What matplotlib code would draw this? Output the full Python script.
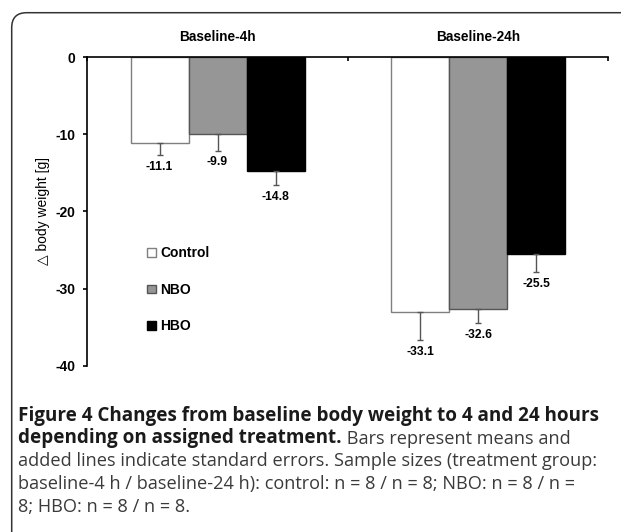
import numpy as np
import matplotlib
matplotlib.use("Agg")
import matplotlib.pyplot as plt
from matplotlib.patches import FancyBboxPatch

# data
groups = ['Baseline-4h', 'Baseline-24h']
treatments = ['Control', 'NBO', 'HBO']
control_mean = [-11.1, -33.1]
nbo_mean = [-9.9, -32.6]
hbo_mean = [-14.8, -25.5]
control_se = [1.6, 3.6]
nbo_se = [2.2, 1.9]
hbo_se = [1.8, 2.4]
yticks = [0, -10, -20, -30, -40]

fills = ['white', '#969696', 'black']
edges = ['#7f7f7f', '#555555', 'black']

plt.rcParams['font.family'] = ['Liberation Sans', 'DejaVu Sans']

fig = plt.figure(figsize=(6.21, 5.32), dpi=100)

# rounded frame round the whole figure (right and bottom sides run off the image)
frame = FancyBboxPatch((0.117, -0.4), 7.0, 5.32 - 0.127 + 0.4,
                       boxstyle="round,pad=0,rounding_size=0.15",
                       transform=fig.dpi_scale_trans, fill=False,
                       edgecolor='#333333', linewidth=1.1)
fig.patches.append(frame)

ax = fig.add_axes([0.1406, 0.3126, 0.8389, 0.5797])

x = np.arange(len(groups)) + 0.5
w = 0.2227
means = [control_mean, nbo_mean, hbo_mean]
ses = [control_se, nbo_se, hbo_se]
handles = []
for i, (m, s) in enumerate(zip(means, ses)):
    xs = x + (i - 1) * w
    b = ax.bar(xs, m, w, color=fills[i], edgecolor=edges[i], linewidth=1.0,
               label=treatments[i], zorder=2)
    handles.append(b)
    ax.errorbar(xs, m, yerr=[s, np.zeros(len(s))], fmt='none', ecolor='#555555',
                elinewidth=1.0, capsize=2.3, capthick=1.0, zorder=3)
    for xi, mi, si in zip(xs, m, s):
        ax.annotate(f'{mi:.1f}', (xi, mi - si), xytext=(0, -8.5),
                    textcoords='offset points', ha='center', va='center',
                    fontsize=8.7, fontweight='bold')

ax.set_xlim(0, 2)
ax.set_ylim(-40, 0)
ax.set_yticks(yticks)
ax.set_yticklabels([str(t) for t in yticks], fontsize=10, fontweight='bold')
ax.tick_params(axis='y', direction='out', length=3, width=1.2, pad=5.5)

# x axis sits at zero along the top
ax.spines['bottom'].set_visible(False)
ax.spines['right'].set_visible(False)
ax.spines['top'].set_linewidth(1.2)
ax.spines['left'].set_linewidth(1.2)
ax.xaxis.tick_top()
ax.set_xticks([0, 1, 2])
ax.set_xticklabels([])
ax.set_xticks(x, minor=True)
ax.set_xticklabels(groups, minor=True, fontsize=9.8, fontweight='bold')
ax.tick_params(axis='x', which='major', direction='in', length=3, width=1.2)
ax.tick_params(axis='x', which='minor', length=0, pad=9.5)

ax.set_ylabel('\u25b3 body weight [g]', fontsize=10)
ax.yaxis.set_label_coords(-0.072, 0.5)

leg = ax.legend(handles=handles, loc='center left', bbox_to_anchor=(0.115, 0.246),
                frameon=False, prop={'weight': 'bold', 'size': 10},
                handlelength=0.6, handleheight=0.6, handletextpad=0.35,
                labelspacing=1.62, borderpad=0, borderaxespad=0)

# caption
cap_font = ['Open Sans', 'DejaVu Sans']
x0 = 18 / 621
lines_y = [416, 438.5, 461, 484, 507]
fy = [1 - (y + 5) / 532 for y in lines_y]
bs, rs = 13.6, 13.1
fig.text(x0, fy[0], 'Figure 4 Changes from baseline body weight to 4 and 24 hours',
         family=cap_font, fontsize=bs, fontweight='bold', va='baseline', color='#1a1a1a')
t2 = fig.text(x0, fy[1], 'depending on assigned treatment.', family=cap_font,
              fontsize=bs, fontweight='bold', va='baseline', color='#1a1a1a')
fig.canvas.draw()
ax.annotate(' Bars represent means and', xy=(1, 0), xycoords=t2, va='bottom',
            family=cap_font, fontsize=rs, color='#3a3a3a', annotation_clip=False)
fig.text(x0, fy[2], 'added lines indicate standard errors. Sample sizes (treatment group:',
         family=cap_font, fontsize=rs, va='baseline', color='#3a3a3a')
fig.text(x0, fy[3], 'baseline-4 h / baseline-24 h): control: n = 8 / n = 8; NBO: n = 8 / n =',
         family=cap_font, fontsize=rs, va='baseline', color='#3a3a3a')
fig.text(x0, fy[4], '8; HBO: n = 8 / n = 8.',
         family=cap_font, fontsize=rs, va='baseline', color='#3a3a3a')

fig.savefig('out.png', dpi=100)
